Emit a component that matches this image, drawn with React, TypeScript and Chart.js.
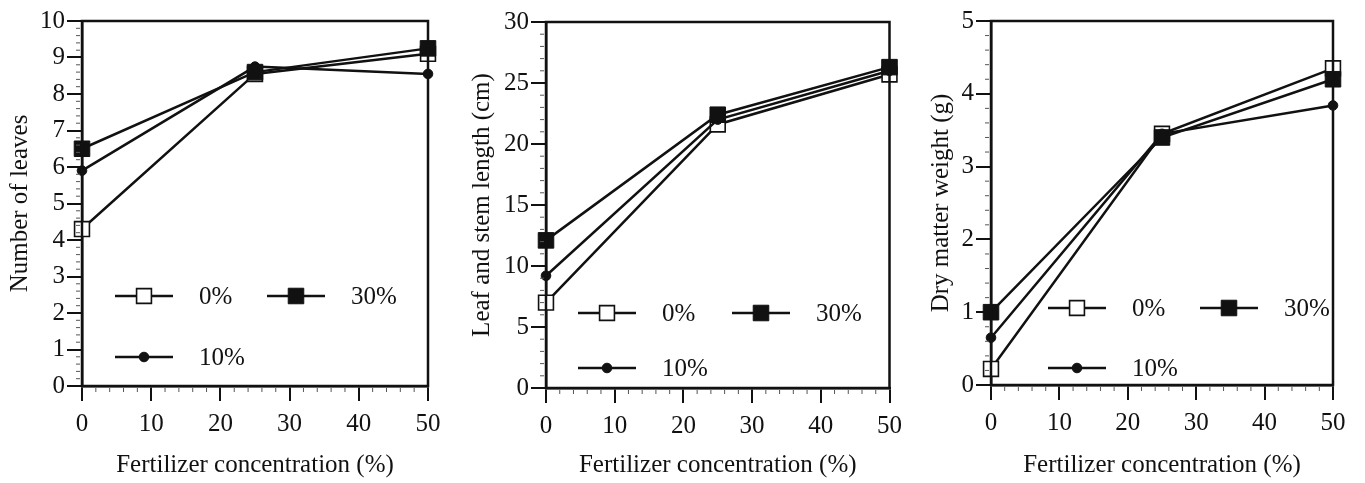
import React, { useEffect, useRef } from 'react';
import { Chart, registerables } from 'chart.js';

Chart.register(...registerables);

// ---------- data ----------
const concentrations = [0, 25, 50];
const seriesLabels = ['0%', '10%', '30%'];

const leaves0 = [4.3, 8.55, 9.1];
const leaves10 = [5.9, 8.75, 8.55];
const leaves30 = [6.5, 8.6, 9.25];

const length0 = [7.0, 21.6, 25.7];
const length10 = [9.2, 22.0, 26.0];
const length30 = [12.1, 22.4, 26.3];

const weight0 = [0.22, 3.45, 4.35];
const weight10 = [0.65, 3.45, 3.84];
const weight30 = [1.0, 3.4, 4.2];

const xTicks = [0, 10, 20, 30, 40, 50];
const leavesTicks = [0, 1, 2, 3, 4, 5, 6, 7, 8, 9, 10];
const lengthTicks = [0, 5, 10, 15, 20, 25, 30];
const weightTicks = [0, 1, 2, 3, 4, 5];

const xTitle = 'Fertilizer concentration (%)';
const leavesTitle = 'Number of leaves';
const lengthTitle = 'Leaf and stem length (cm)';
const weightTitle = 'Dry matter weight (g)';

// ---------- styling ----------
const INK = '#111111';
const FONT = '"Liberation Serif", "Times New Roman", serif';
const W = 455;
const H = 483;

const seriesStyles = [
  { pointStyle: 'rect', radius: 10.5, fill: '#ffffff', borderWidth: 1.6, order: 3 },
  { pointStyle: 'circle', radius: 4.8, fill: INK, borderWidth: 1, order: 2 },
  { pointStyle: 'rect', radius: 11, fill: INK, borderWidth: 1, order: 1 },
];

function drawMarker(ctx: CanvasRenderingContext2D, style: any, x: number, y: number) {
  ctx.save();
  ctx.fillStyle = style.fill;
  ctx.strokeStyle = INK;
  ctx.lineWidth = style.borderWidth;
  ctx.beginPath();
  if (style.pointStyle === 'rect') {
    const s = Math.SQRT1_2 * style.radius;
    ctx.rect(x - s, y - s, 2 * s, 2 * s);
  } else {
    ctx.arc(x, y, style.radius, 0, Math.PI * 2);
  }
  ctx.fill();
  ctx.stroke();
  ctx.restore();
}

const frameAndLegend = {
  id: 'frameAndLegend',
  afterDatasetsDraw(chart: any, _args: any, opts: any) {
    const { ctx, chartArea } = chart;
    ctx.save();
    ctx.strokeStyle = INK;
    ctx.lineWidth = 2.5;
    ctx.strokeRect(chartArea.left, chartArea.top, chartArea.right - chartArea.left, chartArea.bottom - chartArea.top);

    // minor ticks
    ctx.lineWidth = 1;
    ctx.strokeStyle = '#555';
    const xs = chart.scales.x;
    const ys = chart.scales.y;
    const xt: number[] = opts.xTicks;
    const yt: number[] = opts.yTicks;
    for (let i = 0; i < xt.length - 1; i++) {
      const step = (xt[i + 1] - xt[i]) / 5;
      for (let k = 1; k < 5; k++) {
        const px = xs.getPixelForValue(xt[i] + k * step);
        ctx.beginPath();
        ctx.moveTo(px, chartArea.bottom + 2);
        ctx.lineTo(px, chartArea.bottom + 6);
        ctx.stroke();
      }
    }
    for (let i = 0; i < yt.length - 1; i++) {
      const step = (yt[i + 1] - yt[i]) / 5;
      for (let k = 1; k < 5; k++) {
        const py = ys.getPixelForValue(yt[i] + k * step);
        ctx.beginPath();
        ctx.moveTo(chartArea.left - 2, py);
        ctx.lineTo(chartArea.left - 6, py);
        ctx.stroke();
      }
    }

    // legend inside plot
    ctx.font = `25px ${FONT}`;
    ctx.textBaseline = 'middle';
    ctx.textAlign = 'left';
    chart.data.datasets.forEach((ds: any, i: number) => {
      const col = Math.floor(i / 2);
      const row = i % 2;
      const x0 = chartArea.left + opts.x + col * opts.colGap;
      const y = chartArea.top + opts.y + row * opts.rowGap;
      ctx.strokeStyle = INK;
      ctx.lineWidth = 2.5;
      ctx.beginPath();
      ctx.moveTo(x0, y);
      ctx.lineTo(x0 + 58, y);
      ctx.stroke();
      drawMarker(ctx, seriesStyles[i], x0 + 29, y);
      ctx.fillStyle = INK;
      ctx.fillText(ds.label, x0 + 84, y + 1);
    });
    ctx.restore();
  },
};

type Panel = {
  left: number;
  area: { l: number; r: number; t: number; b: number };
  series: number[][];
  yTicks: number[];
  yTitle: string;
  yTitlePad: number;
  legend: { x: number; y: number; colGap: number; rowGap: number };
};

const panels: Panel[] = [
  {
    left: 0,
    area: { l: 82, r: 428, t: 21, b: 386 },
    series: [leaves0, leaves10, leaves30],
    yTicks: leavesTicks,
    yTitle: leavesTitle,
    yTitlePad: 5,
    legend: { x: 33, y: 275, colGap: 152, rowGap: 61 },
  },
  {
    left: 455,
    area: { l: 91, r: 435, t: 22, b: 388 },
    series: [length0, length10, length30],
    yTicks: lengthTicks,
    yTitle: lengthTitle,
    yTitlePad: 12,
    legend: { x: 32, y: 291, colGap: 154, rowGap: 55 },
  },
  {
    left: 910,
    area: { l: 81, r: 423, t: 21, b: 385 },
    series: [weight0, weight10, weight30],
    yTicks: weightTicks,
    yTitle: weightTitle,
    yTitlePad: 16,
    legend: { x: 57, y: 287, colGap: 152, rowGap: 60 },
  },
];

function PanelChart({ panel }: { panel: Panel }) {
  const ref = useRef<HTMLCanvasElement>(null);
  useEffect(() => {
    if (!ref.current) return;
    const a = panel.area;
    const tickFont = { family: FONT, size: 25 };
    const chart = new Chart(ref.current, {
      type: 'line',
      data: {
        datasets: panel.series.map((vals, i) => ({
          label: seriesLabels[i],
          data: concentrations.map((x, j) => ({ x, y: vals[j] })),
          borderColor: INK,
          borderWidth: 2.5,
          pointStyle: seriesStyles[i].pointStyle as any,
          pointRadius: seriesStyles[i].radius,
          pointBackgroundColor: seriesStyles[i].fill,
          pointBorderColor: INK,
          pointBorderWidth: seriesStyles[i].borderWidth,
          order: seriesStyles[i].order,
          clip: false as any,
          tension: 0,
        })),
      },
      options: {
        animation: false,
        responsive: false,
        events: [],
        layout: { padding: { left: 0, top: a.t, right: W - a.r, bottom: 0 } },
        plugins: {
          legend: { display: false },
          tooltip: { enabled: false },
          frameAndLegend: { ...panel.legend, xTicks, yTicks: panel.yTicks },
        } as any,
        scales: {
          x: {
            type: 'linear',
            min: xTicks[0],
            max: xTicks[xTicks.length - 1],
            afterBuildTicks: (s: any) => {
              s.ticks = xTicks.map((v) => ({ value: v }));
            },
            afterFit: (s: any) => {
              s.height = H - a.b;
            },
            grid: { drawOnChartArea: false, drawTicks: true, tickLength: 15, color: INK, lineWidth: 2 },
            border: { display: true, color: INK, width: 2.5 },
            ticks: { color: INK, font: tickFont, padding: 8, maxRotation: 0 },
            title: { display: true, text: xTitle, color: INK, font: { family: FONT, size: 25 }, padding: { top: 0, bottom: 3 } },
          },
          y: {
            type: 'linear',
            min: panel.yTicks[0],
            max: panel.yTicks[panel.yTicks.length - 1],
            afterBuildTicks: (s: any) => {
              s.ticks = panel.yTicks.map((v) => ({ value: v }));
            },
            afterFit: (s: any) => {
              s.width = a.l;
            },
            grid: { drawOnChartArea: false, drawTicks: true, tickLength: 15, color: INK, lineWidth: 2 },
            border: { display: true, color: INK, width: 2.5 },
            ticks: { color: INK, font: tickFont, padding: 2 },
            title: { display: true, text: panel.yTitle, color: INK, font: { family: FONT, size: 25 }, padding: { top: panel.yTitlePad, bottom: 0 } },
          },
        },
      },
      plugins: [frameAndLegend],
    });
    return () => chart.destroy();
  }, [panel]);
  return (
    <canvas
      ref={ref}
      width={W}
      height={H}
      style={{ position: 'absolute', left: panel.left, top: 0, width: W, height: H, display: 'block' }}
    />
  );
}

export default function App() {
  return (
    <div style={{ position: 'absolute', left: 0, top: 0, width: 1365, height: 483, background: '#fff', overflow: 'hidden' }}>
      {panels.map((p, i) => (
        <PanelChart key={i} panel={p} />
      ))}
    </div>
  );
}
